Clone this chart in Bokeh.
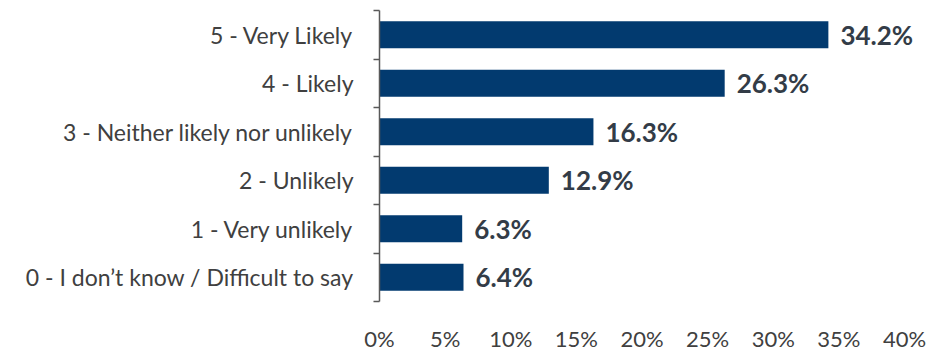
from bokeh.plotting import figure
from bokeh.models import ColumnDataSource, FixedTicker, Range1d
from bokeh.core.properties import value
from bokeh.embed import file_html
from bokeh.resources import INLINE

# Survey responses, top to bottom
categories = [
    "5 - Very Likely",
    "4 - Likely",
    "3 - Neither likely nor unlikely",
    "2 - Unlikely",
    "1 - Very unlikely",
    "0 - I don\u2019t know / Difficult to say",
]
shares = [34.2, 26.3, 16.3, 12.9, 6.3, 6.4]
x_ticks = [0, 5, 10, 15, 20, 25, 30, 35, 40]

FONT = "Lato"
BAR = "#023a6f"
TEXT = "#404040"
VALUE_TEXT = "#333c47"

n = len(categories)
ypos = [n - i - 0.5 for i in range(n)]

src = ColumnDataSource(dict(
    y=ypos,
    share=shares,
    label=[f"{s:.1f}%" for s in shares],
))

# The frame runs to the right edge so the value labels are not clipped;
# the axis is unlined and only ticks 0-40% are labelled.
W, LEFT, AXIS_END_PX = 946, 379, 904
x_end = x_ticks[-1] * (W - LEFT) / (AXIS_END_PX - LEFT)

p = figure(
    width=W, height=354,
    x_range=Range1d(0, x_end), y_range=Range1d(0, n),
    output_backend="svg", toolbar_location=None,
    min_border_left=LEFT, min_border_right=0,
    min_border_top=10, min_border_bottom=44,
)
p.outline_line_color = None
p.xgrid.visible = False
p.ygrid.visible = False
p.background_fill_color = "white"
p.border_fill_color = "white"

p.hbar(y="y", left=0, right="share", height=0.56, source=src,
       fill_color=BAR, line_color=None)

p.text(x="share", y="y", text="label", source=src,
       x_offset=12, text_baseline="middle", text_align="left",
       text_font=value(FONT), text_font_style="bold",
       text_font_size="26px", text_color=VALUE_TEXT)

# x axis: labels only
xa = p.xaxis[0]
xa.ticker = FixedTicker(ticks=x_ticks, minor_ticks=[])
xa.major_label_overrides = {t: f"{t}%" for t in x_ticks}
xa.axis_line_color = None
xa.major_tick_line_color = None
xa.minor_tick_line_color = None
xa.major_label_text_font = FONT
xa.major_label_text_font_size = "22px"
xa.major_label_text_color = TEXT
xa.major_label_standoff = 17

# y axis: labels at category centres, tick marks on category boundaries
ya = p.yaxis[0]
ya.ticker = FixedTicker(ticks=ypos, minor_ticks=list(range(n + 1)))
ya.major_label_overrides = {y: c for y, c in zip(ypos, categories)}
ya.major_tick_line_color = None
ya.major_tick_out = 0
ya.major_tick_in = 0
ya.minor_tick_out = 6
ya.minor_tick_in = 0
ya.minor_tick_line_color = "#595959"
ya.minor_tick_line_width = 1.5
ya.axis_line_color = "#595959"
ya.axis_line_width = 1.5
ya.major_label_text_font = FONT
ya.major_label_text_font_size = "23px"
ya.major_label_text_color = TEXT
ya.major_label_standoff = 20

open("out.html", "w").write(file_html(p, INLINE))
